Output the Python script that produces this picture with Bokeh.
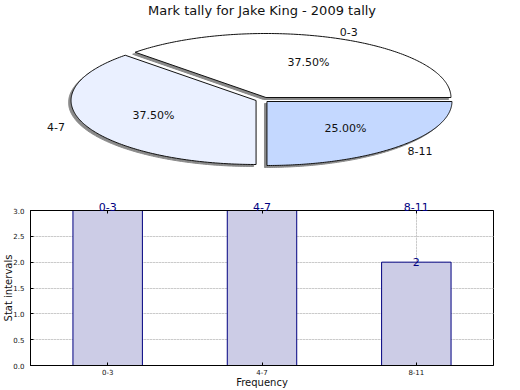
import numpy as np
from bokeh.plotting import figure
from bokeh.models import (Range1d, FactorRange, ColumnDataSource, Label, Title, Grid,
                          SingleIntervalTicker, NumeralTickFormatter, CategoricalAxis, LinearAxis,
                          CategoricalTicker)
from bokeh.layouts import column
from bokeh.core.properties import value
from bokeh.embed import file_html
from bokeh.resources import INLINE

# ---------------- data ----------------
title_text = "Mark tally for Jake King - 2009 tally"
categories = ["0-3", "4-7", "8-11"]
tallies = [3, 3, 2]
bar_labels = ["3", "3", "2"]
y_tick_step = 0.5
x_axis_label = "Frequency"
y_axis_label = "Stat intervals"
watermark = "Dream-Stats.com"

# ---------------- style ----------------
FONT = "DejaVu Sans"
slice_colors = ["#ffffff", "#eaf0ff", "#c4d8ff"]
W = 520
TOP_H = 195
BOT_H = 195
FL, FR = 25, 27            # left / right borders shared by both panels
CX, CY = 259, 99           # pie centre (pixels)
RX, RY = 187, 64           # ellipse radii
explode = [(4, -2), (-6, 1), (5, 2)]
SHADOW = (-2.5, 2.0)

# ---------------- pie ----------------
pie = figure(width=W, height=TOP_H, x_range=Range1d(FL, W - FR), y_range=Range1d(TOP_H, 0),
             output_backend="svg", toolbar_location=None, min_border=0,
             min_border_left=FL, min_border_right=FR,
             x_axis_location=None, y_axis_location=None)
pie.grid.visible = False
pie.outline_line_color = None

total = float(sum(tallies))
fracs = np.array(tallies) / total
starts = np.concatenate([[0.0], np.cumsum(fracs)[:-1]]) * 2 * np.pi
ends = starts + fracs * 2 * np.pi

xs, ys, sxs, sys_ = [], [], [], []
pct_x, pct_y, lab_x, lab_y, pct_t = [], [], [], [], []
for i in range(len(tallies)):
    cx = CX + explode[i][0]
    cy = CY + explode[i][1]
    t = np.linspace(starts[i], ends[i], 160)
    px = np.concatenate([[cx], cx + RX * np.cos(t), [cx]])
    py = np.concatenate([[cy], cy - RY * np.sin(t), [cy]])
    xs.append(list(px)); ys.append(list(py))
    sxs.append(list(px + SHADOW[0])); sys_.append(list(py + SHADOW[1]))
    mid = (starts[i] + ends[i]) / 2
    pct_x.append(cx + 0.6 * RX * np.cos(mid)); pct_y.append(cy - 0.6 * RY * np.sin(mid))
    lab_x.append(cx + 1.17 * RX * np.cos(mid)); lab_y.append(cy - 1.1 * RY * np.sin(mid))
    pct_t.append(f"{fracs[i] * 100:.2f}%")

pie.patches(sxs, sys_, fill_color="#8a8a8a", line_color="#8a8a8a", line_width=1)
pie.patches(xs, ys, fill_color=slice_colors, line_color="#111111", line_width=1)
pie.text(x=pct_x, y=pct_y, text=pct_t, text_align="center", text_baseline="middle",
         text_font=value(FONT), text_font_size="11px", text_color="#111111")
pie.text(x=lab_x, y=lab_y, text=categories, text_align="center", text_baseline="middle",
         text_font=value(FONT), text_font_size="11px", text_color="#111111")
pie.text(x=[259], y=[10], text=[title_text], text_align="center", text_baseline="middle",
         text_font=value(FONT), text_font_size="13px", text_color="#111111")

# ---------------- bars ----------------
ymax = max(tallies)
src = ColumnDataSource(dict(cat=categories, val=tallies, lbl=bar_labels))
bar = figure(width=W, height=BOT_H, x_range=FactorRange(*categories),
             y_range=Range1d(0, ymax), output_backend="svg", toolbar_location=None,
             min_border_top=15, min_border_right=FR, min_border_left=FL, min_border_bottom=0,
             x_axis_location=None, y_axis_location=None)

x_ticker = CategoricalTicker()
y_ticker = SingleIntervalTicker(interval=y_tick_step)
bar.add_layout(Grid(dimension=0, ticker=x_ticker, grid_line_color="#b0b0b0", grid_line_dash="1 2"))
bar.add_layout(Grid(dimension=1, ticker=y_ticker, grid_line_color="#b0b0b0", grid_line_dash="1 2"))

bar.vbar(x="cat", top="val", width=0.45, source=src, fill_color="#ccccE6",
         line_color="#000080", line_width=1)

bottom_axis = CategoricalAxis(ticker=x_ticker, axis_label=x_axis_label)
left_axis = LinearAxis(ticker=y_ticker, formatter=NumeralTickFormatter(format="0.0"),
                       axis_label=y_axis_label)
for ax in (bottom_axis, left_axis):
    ax.major_label_text_font = FONT
    ax.major_label_text_font_size = "7px"
    ax.major_label_text_color = "#111111"
    ax.major_tick_in = 3
    ax.major_tick_out = 0
    ax.minor_tick_line_color = None
    ax.axis_line_color = "black"
    ax.major_label_standoff = 2
    ax.axis_label_text_font = FONT
    ax.axis_label_text_font_size = "10px"
    ax.axis_label_text_font_style = "normal"
    ax.axis_label_text_color = "#111111"
left_axis.axis_label_standoff = -4
bottom_axis.axis_label_standoff = -1
bottom_axis.major_label_standoff = 3
bar.add_layout(bottom_axis, "below")
bar.add_layout(left_axis, "left")

# value labels: those at the top edge sit just above the frame (carried by the top axis)
overrides = {c: (lb if v >= ymax else "") for c, v, lb in zip(categories, tallies, bar_labels)}
top_axis = CategoricalAxis(ticker=x_ticker, major_label_overrides=overrides)
top_axis.major_label_text_color = "#000080"
top_axis.major_label_text_font = FONT
top_axis.major_label_text_font_size = "11px"
top_axis.major_label_standoff = 0
top_axis.major_tick_in = 3
top_axis.major_tick_out = 0
top_axis.axis_line_color = "black"
bar.add_layout(top_axis, "above")
for i, (v, lb) in enumerate(zip(tallies, bar_labels)):
    if v < ymax:
        bar.add_layout(Label(x=i + 0.5, y=v, text=lb, text_align="center",
                             text_baseline="alphabetic", text_color="#000080",
                             text_font=FONT, text_font_size="11px"))

bar.outline_line_color = "black"
bar.outline_line_alpha = 1.0

bar.add_layout(Title(text=watermark, align="left", offset=-FL, standoff=-29,
                     text_color="#a0a0a0", text_font=FONT, text_font_size="12px",
                     text_font_style="normal"), "below")

layout = column(pie, bar, spacing=0)
open("out.html", "w").write(file_html(layout, INLINE))
